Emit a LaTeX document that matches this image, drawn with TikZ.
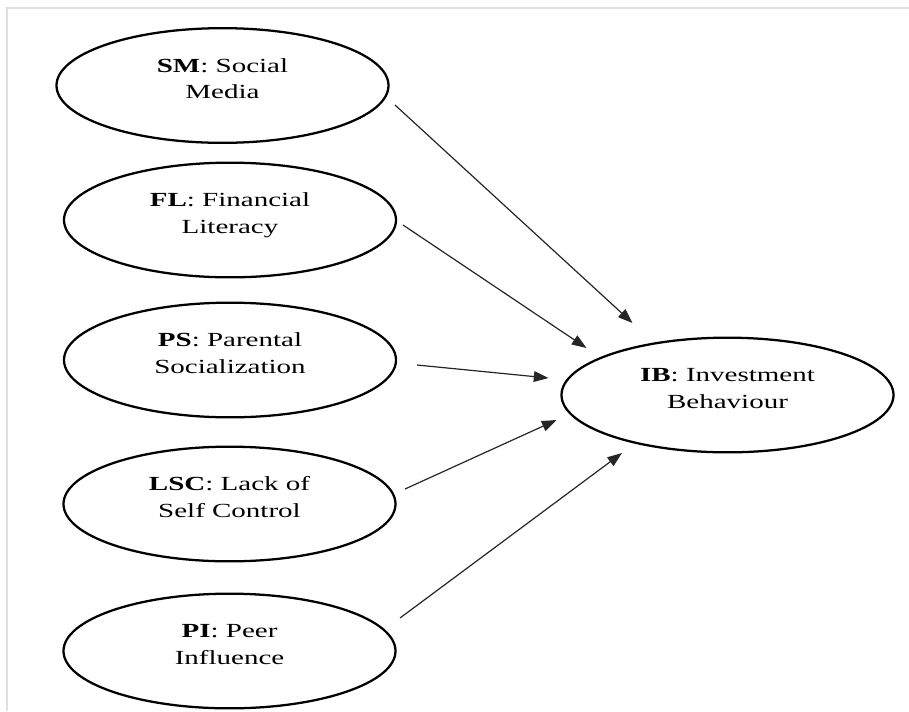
\documentclass[tikz,border=0pt]{standalone}
\usepackage{fontspec}
\setmainfont{Liberation Serif}
\usetikzlibrary{shapes.geometric,arrows.meta,calc}
\tikzset{
  ell/.style={draw=black, line width=1.7pt, ellipse, minimum width=249pt, minimum height=86pt, inner sep=0pt},
  lbl/.style={font=\fontsize{15}{20}\selectfont, inner sep=0pt, xscale=1.45, transform shape},
  arr/.style={draw=black!85, line width=0.9pt, -{Triangle[length=11pt,width=8pt]}},
  frameline/.style={draw=black!12, line width=0.8pt}
}
\newcommand{\twoline}[2]{\begin{tabular}{@{}c@{}}#1\\#2\end{tabular}}
\begin{document}
\begin{tikzpicture}[x=0.75pt, y=-0.75pt]
\useasboundingbox (0,0) rectangle (909,711);
\fill[white] (0,0) rectangle (909,711);
\draw[frameline] (7,711) -- (7,8) -- (909,8);

\node[ell] (sm)  at (222.5,85.5) {};
\node[ell] (fl)  at (230,220) {};
\node[ell] (ps)  at (230,360) {};
\node[ell] (lsc) at (229.5,504) {};
\node[ell] (pi)  at (229.5,651) {};
\node[ell] (ib)  at (727.5,395) {};

\node[lbl] (tsm)  at ([yshift=4pt]sm.center)  {\twoline{\textbf{SM}: Social}{Media}};
\node[lbl] (tfl)  at ([yshift=4pt]fl.center)  {\twoline{\textbf{FL}: Financial}{Literacy}};
\node[lbl] (tps)  at ([yshift=4pt]ps.center)  {\twoline{\textbf{PS}: Parental}{Socialization}};
\node[lbl] (tlsc) at ([yshift=4pt]lsc.center) {\twoline{\textbf{LSC}: Lack of}{Self Control}};
\node[lbl] (tpi)  at ([yshift=4pt]pi.center)  {\twoline{\textbf{PI}: Peer}{Influence}};
\node[lbl] (tib)  at ([yshift=4pt]ib.center)  {\twoline{\textbf{IB}: Investment}{Behaviour}};

\draw[arr] ($(sm.center)+(172.5,19.5)$) -- ($(ib.center)+(-95,-72)$);
\draw[arr] ($(fl.center)+(173,5)$) -- ($(ib.center)+(-141,-47)$);
\draw[arr] ($(ps.center)+(187,5)$) -- ($(ib.center)+(-179,-17)$);
\draw[arr] ($(lsc.center)+(175.5,-15)$) -- ($(ib.center)+(-171,25)$);
\draw[arr] ($(pi.center)+(170.5,-33)$) -- ($(ib.center)+(-105.5,58)$);
\end{tikzpicture}
\end{document}
